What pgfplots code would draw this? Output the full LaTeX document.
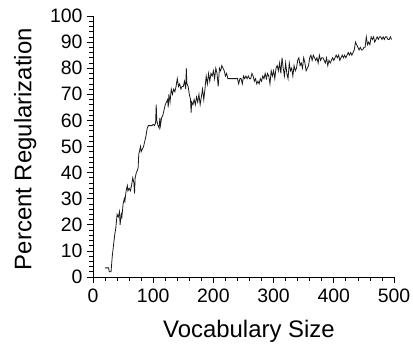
\documentclass[border=0pt]{standalone}
\usepackage{fontspec}
\setmainfont{Liberation Sans}
\usepackage{pgfplots}
\pgfplotsset{compat=1.18}
\begin{document}
\begin{tikzpicture}
\begin{axis}[
  name=ax,
  scale only axis,
  width=301bp, height=261bp,
  xmin=0, xmax=500, ymin=0, ymax=100,
  xtick={0,100,...,500}, ytick={0,10,...,100},
  minor x tick num=4, minor y tick num=4,
  axis x line*=bottom, axis y line*=left,
  axis line style={-, line width=0.8pt},
  tick align=outside,
  major tick length=6bp, minor tick length=3.5bp,
  tick style={line width=0.7pt, black},
  /pgf/number format/assume math mode=true,
  ticklabel style={font=\fontsize{19.5}{22}\selectfont},
  xticklabel style={yshift=-2bp},
  yticklabel style={xshift=-1bp},
  xlabel={Vocabulary Size}, ylabel={Percent Regularization},
  label style={font=\fontsize{24}{28}\selectfont},
  xlabel style={at={(axis description cs:0.518,-0.23)}, anchor=base},
  ylabel style={at={(axis description cs:-0.225,0.49)}, anchor=center, rotate=0},
]
\addplot[black!90, line width=0.8pt, mark=none] coordinates {
(20,3.5) (22,3.5) (24,3.5) (26,3.5) (27,2) (29,2) (30,2) (32,8) (34,12) (36,16) (38,19) (40,24) (42,23) (44,25) (45,20) (47,24) (48,23) (50,28) (52,30) (53,29) (55,33) (57,35) (58,33) (60,34) (62,33) (64,35) (66,38) (68,36) (69,32) (70,38) (72,40) (74,41) (75,42) (76,47) (78,49) (79,50) (80,48) (82,49) (84,50) (86,52) (88,54) (90,57) (92,58) (94,58) (96,58) (98,58) (100,58.5) (102,58) (104,59) (105,66) (106,60) (108,58) (110,57) (111,61) (112,58) (114,61) (116,62) (118,64) (120,66) (122,67) (124,68) (125,65) (126,70) (128,67) (130,72) (132,70) (134,72) (136,71) (138,73) (140,76) (142,73) (144,74) (146,72) (148,73) (150,73) (152,75) (154,72) (155,80) (156,74) (158,73) (160,70) (162,68) (163,63) (164,67) (166,66) (168,68) (170,66) (172,69) (174,67) (176,70) (178,66) (180,69) (182,72) (184,68) (186,72) (188,77) (190,74) (192,78) (194,75) (196,78) (198,77) (200,79) (202,76) (204,80) (206,78) (208,73) (210,80) (212,79) (214,81) (216,80) (218,79) (220,77) (222,78) (224,76) (226,76) (228,76) (230,76) (232,76) (234,76) (236,76) (238,76) (240,76) (242,74) (244,76) (246,76) (248,74) (250,77) (252,76) (254,77) (256,76) (258,77) (260,76) (262,76) (264,78) (266,77) (268,75) (270,76) (272,74) (274,75) (276,74) (278,76) (280,75) (282,77) (284,76) (286,78) (288,76) (290,78) (292,77) (294,74) (296,79) (298,77) (300,79) (302,76) (304,80) (306,81) (308,79) (310,82) (312,78) (314,84) (316,80) (318,77) (320,82) (322,78) (324,76) (326,82) (328,79) (330,80) (332,77) (334,81) (336,79) (338,80) (340,83) (342,84) (344,81) (346,82) (348,80) (350,84) (352,82) (354,79) (356,80) (358,81) (360,84) (362,85) (364,83) (366,85) (368,84) (370,83) (372,84) (374,82) (376,85) (378,83) (380,84) (382,84) (384,83) (386,82) (388,84) (390,81) (392,83) (394,82) (396,83) (398,84) (400,83) (402,84) (404,85) (406,84) (408,85) (410,83) (412,84) (414,85) (416,84) (418,85) (420,84) (422,85) (424,86) (426,85) (428,86) (430,85) (432,86) (434,87) (436,90) (438,89) (440,88) (442,87) (444,88) (446,87) (448,87) (450,88) (452,88) (454,92) (456,89) (458,90) (460,89) (462,92) (464,91) (466,92) (468,90) (470,91) (472,92) (474,91) (476,92) (478,92) (480,91) (482,92) (484,91) (486,92) (488,92) (490,91) (492,91) (494,92) (496,91)
};
\end{axis}
\pgfresetboundingbox
\path ([shift={(-93bp,-68bp)}]ax.south west) rectangle ++(413bp,345bp);
\end{tikzpicture}
\end{document}
